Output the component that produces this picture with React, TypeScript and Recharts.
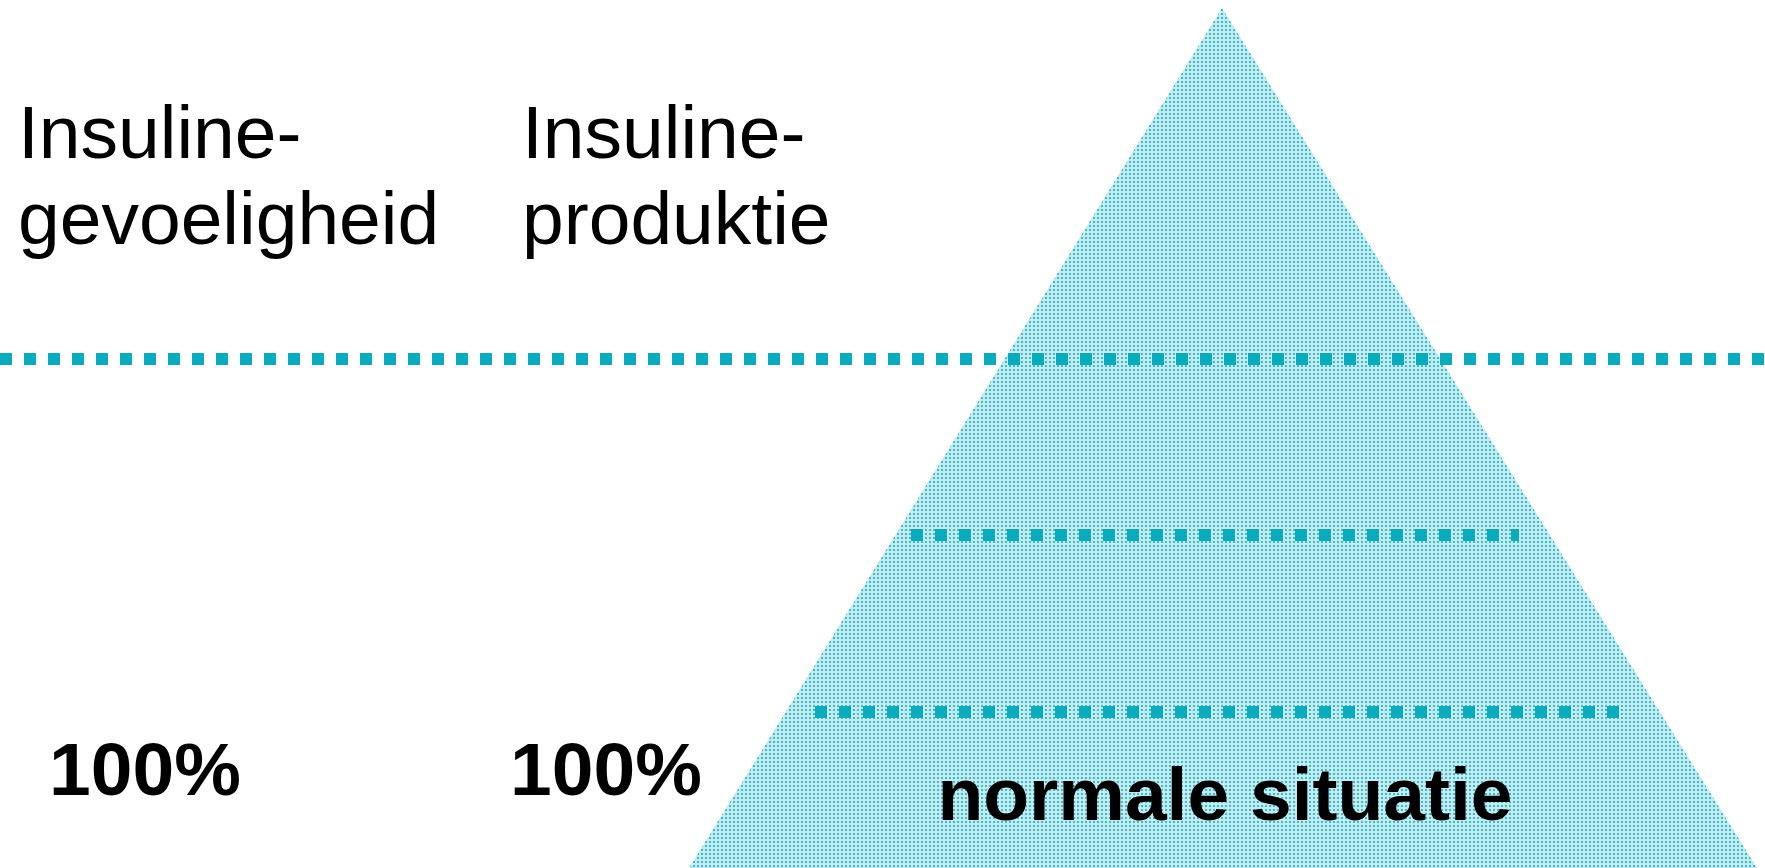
import { Area, ComposedChart, Line, XAxis, YAxis } from 'recharts';

// pyramid outline (x in px-units across, height above the base)
const pyramidX = [689, 1222, 1757];
const pyramidH = [0, 860, 0];

// dotted levels: height, start and end
const levelH = [509, 333, 156];
const levelFrom = [0, 911, 815];
const levelTo = [1765, 1519, 1619];

const headerLine1 = ['Insuline-', 'Insuline-'];
const headerLine2 = ['gevoeligheid', 'produktie'];
const percentLabels = ['100%', '100%'];
const situationLabel = 'normale situatie';

const W = 1765;
const H = 868;
const TEAL = '#0aabbd';
const FONT = '"Liberation Sans", Arial, sans-serif';

const pyramidRows = pyramidX.map((x, i) => ({ x, h: pyramidH[i] }));
const levelRows = levelH.map((h, i) => [
  { x: levelFrom[i], h },
  { x: levelTo[i], h },
]);

// text sits on top of the chart layers
function Texts() {
  const colX = [18, 522];
  const pctX = [49, 510];
  return (
    <svg
      width={W}
      height={H}
      style={{ position: 'absolute', left: 0, top: 0, pointerEvents: 'none' }}
    >
      <g fontFamily={FONT} fill="#000">
        {headerLine1.map((t, i) => (
          <text key={'a' + i} x={colX[i]} y={158} fontSize={75}>
            {t}
          </text>
        ))}
        {headerLine2.map((t, i) => (
          <text key={'b' + i} x={colX[i]} y={244} fontSize={75}>
            {t}
          </text>
        ))}
        {percentLabels.map((t, i) => (
          <text key={'p' + i} x={pctX[i]} y={795} fontSize={75} fontWeight="bold">
            {t}
          </text>
        ))}
        <text x={1225} y={820} fontSize={75} fontWeight="bold" textAnchor="middle">
          {situationLabel}
        </text>
      </g>
    </svg>
  );
}

export default function App() {
  return (
    <div style={{ position: 'absolute', left: 0, top: 0, width: W, height: H, background: '#fff' }}>
      <ComposedChart width={W} height={H} margin={{ top: 0, right: 0, bottom: 0, left: 0 }}>
        <defs>
          <pattern id="dots" width={4} height={4} patternUnits="userSpaceOnUse">
            <rect width={4} height={4} fill="#c4ebf0" />
            <rect x={1} y={1} width={2} height={2} fill="#3cbccb" />
          </pattern>
        </defs>
        <XAxis type="number" dataKey="x" domain={[0, W]} hide allowDataOverflow />
        <YAxis type="number" domain={[0, H]} hide allowDataOverflow />
        <Area
          data={pyramidRows}
          dataKey="h"
          type="linear"
          stroke="none"
          fill="url(#dots)"
          fillOpacity={1}
          baseValue={0}
          isAnimationActive={false}
        />
        {levelRows.map((rows, i) => (
          <Line
            key={i}
            data={rows}
            dataKey="h"
            type="linear"
            stroke={TEAL}
            strokeWidth={12}
            strokeDasharray="12 12"
            strokeLinecap="butt"
            dot={false}
            activeDot={false}
            isAnimationActive={false}
          />
        ))}
      </ComposedChart>
      <Texts />
    </div>
  );
}
